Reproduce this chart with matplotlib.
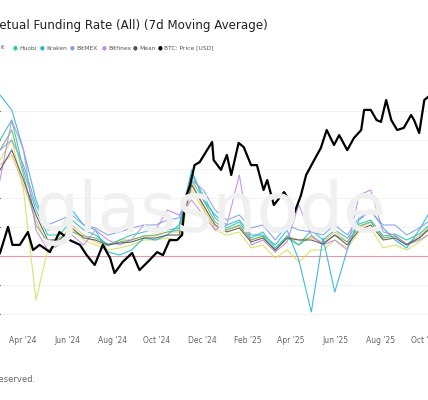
import matplotlib
matplotlib.use("Agg")
import matplotlib.pyplot as plt
import numpy as np
import pandas as pd

base = pd.Timestamp("2024-04-01")
# funding grid (days since 2024-04-01)
f_days = [-31,-15,1,18,34,50,67,83,99,116,132,148,165,181,197,213,230,246,262,278,295,311,327,344,360,376,393,409,425,442,458,474,491,507,523,540,552]
# funding rate, units of 0.0005 %
binance = [96,116,66,-44,6,11,26,16,11,6,8,11,16,16,18,16,66,46,26,21,24,8,11,-2,6,-6,6,6,16,8,24,28,8,11,6,14,21]
okx = [91,101,71,36,11,16,31,21,14,10,16,16,20,20,24,24,74,48,28,26,30,16,20,4,20,16,18,14,24,14,28,34,18,20,12,20,28]
bybit = [106,126,81,31,14,18,24,20,18,12,14,16,20,21,24,26,76,56,34,26,31,16,20,6,18,11,20,12,21,14,30,34,18,20,12,18,26]
huobi = [116,136,86,46,21,21,36,26,21,11,16,21,24,26,26,28,81,61,38,28,34,18,24,8,20,11,26,16,26,18,32,36,20,22,16,22,30]
kraken = [161,146,106,56,26,26,46,31,26,4,1,6,18,16,21,31,86,56,41,31,36,21,21,11,26,-4,-56,18,-36,6,36,46,28,16,8,26,41]
bitmex = [106,116,91,51,31,36,41,31,28,21,24,28,31,31,36,38,76,66,46,36,41,28,31,16,31,26,24,21,31,21,38,44,31,31,21,28,34]
bitfinex = [76,136,106,26,6,11,21,11,26,16,11,16,31,26,46,41,56,41,26,31,81,11,16,4,14,51,21,11,16,6,61,66,24,21,11,16,21]
mean = [86,106,76,41,16,16,28,18,16,11,13,14,18,18,21,21,71,51,31,24,28,14,18,6,18,16,16,12,21,11,26,31,16,18,11,18,26]

btc_days = [-31,-20,-14,-4,7,14,23,37,50,64,78,87,98,109,119,125,136,149,159,173,183,191,200,210,217,221,228,234,241,251,258,260,270,278,284,294,301,311,319,328,333,342,356,367,369,379,386,397,406,414,424,431,442,451,461,465,474,482,488,495,502,510,519,529,533,540,547,552]
btc_price = [64,72.7,66.7,66.7,71,65,66.7,64.3,71,68.3,66.7,63.3,60,66.7,62.3,57.3,61,64,58.3,61.7,64.3,63.3,68.3,68.3,70,81.7,86.7,93.3,94.3,98.3,101,95,91.7,96.7,90,100.7,99.3,93.3,93.3,85,88.3,80,84.3,80,76.7,83.3,90,95,99,105,100,103.3,98.3,102.3,105,111.7,111.7,108.3,107.7,115,108.3,105,105.7,110,108.3,104,115,116]

series = [("Binance", binance, "#d4e157"), ("OKX", okx, "#f5b971"), ("Bybit", bybit, "#66bb6a"),
          ("Huobi", huobi, "#26c6b0"), ("Kraken", kraken, "#29b6d6"), ("BitMEX", bitmex, "#7f9fe6"),
          ("Bitfinex", bitfinex, "#c08ae8"), ("Mean", mean, "#555555")]

fig = plt.figure(figsize=(4.28, 4.0), dpi=100)
ax = fig.add_axes([0, 0.1875, 1, 0.6])
fd = base + pd.to_timedelta(f_days, unit="D")
bd = base + pd.to_timedelta(btc_days, unit="D")

fig.text(0.49, 0.47, "glassnode", ha="center", va="center", fontsize=50, color="#f0f0f0", zorder=0)

for name, vals, c in series:
    ax.plot(fd, vals, color=c, lw=0.8, alpha=0.9, zorder=3)
ax.axhline(0, color="#e89aa8", lw=0.8, zorder=2)
ax.set_ylim(-69, 171)
ax.set_yticks([-58, -29, 29, 58, 87, 116, 145])
ax.grid(axis="y", color="#f0f0f0", lw=0.6)
ax.tick_params(axis="y", left=False, labelleft=False)
ax.set_xlim(base + pd.Timedelta(days=-31), base + pd.Timedelta(days=552))
ticks = pd.date_range("2024-04-01", "2025-10-01", freq="2MS")
ax.set_xticks(ticks)
ax.set_xticklabels([t.strftime("%b '%y") for t in ticks], fontsize=5.5, color="#666666")
ax.tick_params(axis="x", length=0, pad=8)
for s in ax.spines.values():
    s.set_visible(False)
ax.patch.set_alpha(0)

ax2 = ax.twinx()
ax2.plot(bd, btc_price, color="black", lw=1.6, zorder=4)
ax2.set_ylim(40, 120)
ax2.axis("off")

fig.text(268/428, 1 - 25/400, "Bitcoin: Perpetual Funding Rate (All) (7d Moving Average)",
         ha="right", va="center", fontsize=8.6, color="#222222")
leg = [("Huobi", "#26c6b0", 13), ("Kraken", "#29b6d6", 40), ("BitMEX", "#7f9fe6", 70),
       ("Bitfinex", "#c08ae8", 102), ("Mean", "#555555", 133), ("BTC: Price [USD]", "black", 158)]
fig.text(5/428, 1 - 48/400, "Bybit", ha="right", va="center", fontsize=4.3, color="#555555")
for name, c, x in leg:
    fig.text(x/428, 1 - 48/400, "\u25CF", ha="left", va="center", fontsize=4, color=c)
    fig.text((x + 6)/428, 1 - 48/400, name, ha="left", va="center", fontsize=4.3, color="#555555")
fig.text(35/428, 1 - 379/400, "© 2025 Glassnode. All Rights Reserved.", ha="right", va="center",
         fontsize=6, color="#666666")
fig.savefig("out.png", dpi=100)
